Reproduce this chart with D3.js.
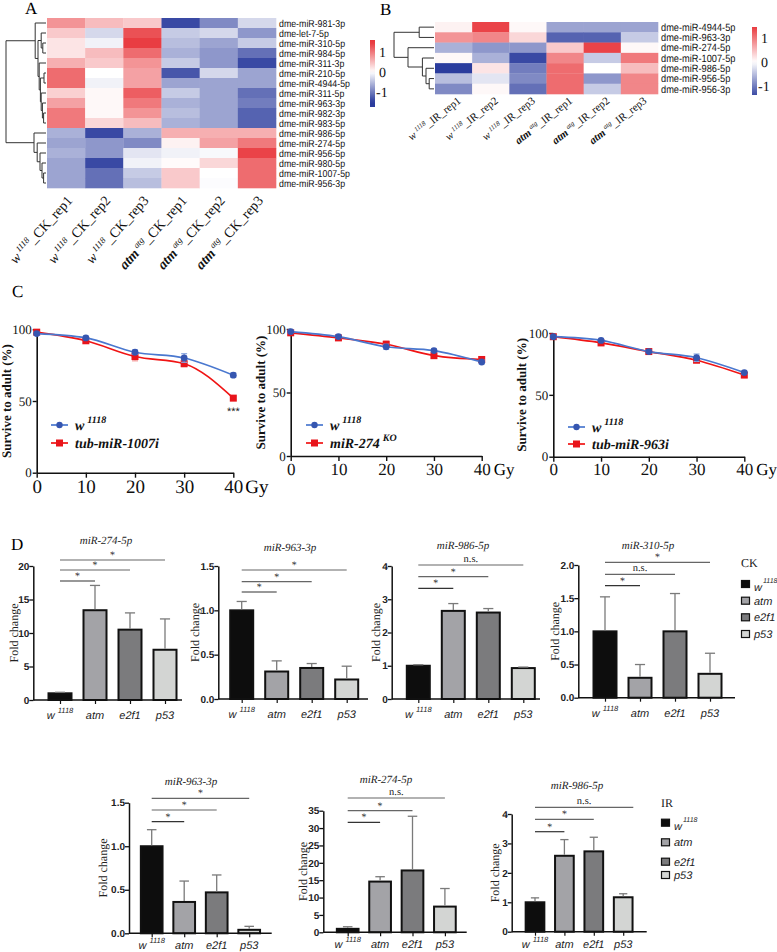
<!DOCTYPE html>
<html><head><meta charset="utf-8">
<script src="https://cdn.jsdelivr.net/npm/d3@7"></script>
<style>body{margin:0;background:#fff}svg{display:block;text-rendering:geometricPrecision}</style>
</head><body>
<svg id="fig" width="777" height="952"></svg>
<script>
// ================= DATA =================
// Panel A heatmap
const heatARows = ["dme-miR-981-3p","dme-let-7-5p","dme-miR-310-5p","dme-miR-984-5p","dme-miR-311-3p","dme-miR-210-5p","dme-miR-4944-5p","dme-miR-311-5p","dme-miR-963-3p","dme-miR-982-3p","dme-miR-983-5p","dme-miR-986-5p","dme-miR-274-5p","dme-miR-956-5p","dme-miR-980-5p","dme-miR-1007-5p","dme-miR-956-3p"];
const heatAGeno = ["w","w","w","atm","atm","atm"];
const heatASup = ["1118","1118","1118","atg","atg","atg"];
const heatASuffix = ["_CK_rep1","_CK_rep2","_CK_rep3","_CK_rep1","_CK_rep2","_CK_rep3"];
const heatAValues = [
  [0.8, 0.5, 0.4, -1.4, -0.9, -0.3],
  [0.4, -0.3, 1.3, -0.4, -0.3, -0.8],
  [0.2, -0.1, 1.45, -0.5, -0.7, -0.4],
  [0.2, 0.5, 1.1, -0.6, -0.8, -1.1],
  [0.6, 0.4, 0.8, -0.4, -0.8, -1.4],
  [1.1, 0.0, 0.7, -1.3, -0.3, -0.7],
  [1.1, -0.1, 0.7, -0.7, -0.7, -0.7],
  [0.35, 0.05, 1.2, -0.4, -0.7, -1.1],
  [0.7, 0.05, 1.0, -0.6, -0.7, -1.0],
  [1.0, 0.05, 0.8, -0.5, -0.7, -1.2],
  [1.0, 0.3, 0.5, -0.6, -0.7, -1.2],
  [-0.6, -1.4, -0.6, 0.6, 0.6, 0.6],
  [-0.7, -0.8, -0.9, 0.1, 0.7, 1.0],
  [-0.6, -0.8, -0.2, -0.1, -0.05, 1.4],
  [-0.7, -1.4, -0.1, 0.03, 0.3, 1.1],
  [-0.7, -1.1, -0.4, 0.4, 0.0, 1.1],
  [-0.7, -1.1, -0.5, 0.4, -0.02, 1.1]
];
// cluster tree: [mergeHeight, left, right]; leaves are row indices
const heatATree = [1.0,
  [0.27, 0, [0.2, [0.12, 1, [0.08, 2, 3]], [0.17, 4, [0.14, [0.05, 5, 6], [0.12, 7, [0.09, 8, [0.06, 9, 10]]]]]]],
  [0.3, 11, [0.22, 12, [0.15, 13, [0.1, 14, [0.06, 15, 16]]]]]];

// Panel B heatmap
const heatBRows = ["dme-miR-4944-5p","dme-miR-963-3p","dme-miR-274-5p","dme-miR-1007-5p","dme-miR-986-5p","dme-miR-956-5p","dme-miR-956-3p"];
const heatBGeno = ["w","w","w","atm","atm","atm"];
const heatBSup = ["1118","1118","1118","atg","atg","atg"];
const heatBSuffix = ["_IR_rep1","_IR_rep2","_IR_rep3","_IR_rep1","_IR_rep2","_IR_rep3"];
const heatBValues = [
  [0.1, 1.4, 0.05, -0.7, -0.7, -0.7],
  [0.8, 0.9, 0.3, -1.2, -1.2, -0.4],
  [-0.6, -0.8, -0.8, 0.4, 1.4, 0.05],
  [0.05, -0.6, -1.4, 0.9, -0.4, 1.0],
  [-1.5, 0.2, -1.0, 1.1, 0.0, 0.5],
  [-0.5, -0.2, -0.9, 1.1, -0.8, 0.9],
  [-0.9, 0.05, -1.1, 1.1, -0.4, 0.9]
];
const heatBTree = [1.0, [0.37, 0, 1], [0.65, 2, [0.29, 3, [0.2, 4, [0.12, 5, 6]]]]];
const heatLegendTicks = [1, 0, -1];

// Panel C survival
const cDoses = [0, 10, 20, 30, 40];
const cYTicks = [0, 50, 100];
const cWtName = ["w", "1118"];
const c1MutName = ["tub-miR-1007i", ""];
const c2MutName = ["miR-274", "KO"];
const c3MutName = ["tub-miR-963i", ""];
const c1Wt = [97, 94, 84, 80, 68];
const c1WtErr = [1, 1.2, 1.5, 3, 1.5];
const c1Mut = [98, 92, 81, 76, 52];
const c1MutErr = [1, 1.5, 3, 2, 1.2];
const c2Wt = [98, 94, 86, 83, 74];
const c2WtErr = [1, 1.2, 2, 1.2, 1.5];
const c2Mut = [97, 93, 88, 79, 76];
const c2MutErr = [1, 1.5, 2.5, 2, 2];
const c3Wt = [97, 94, 85, 80, 68];
const c3WtErr = [1, 1, 1, 3, 1.2];
const c3Mut = [97, 92, 85, 78, 66];
const c3MutErr = [1, 1.5, 1.5, 2, 2];

// Panel D qPCR
const dGenotypes = ["w1118", "atm", "e2f1", "p53"];
const dCK274 = [1.0, 13.4, 10.5, 7.5], dCK274Err = [0.15, 3.7, 2.5, 4.6];
const dCK963 = [1.0, 0.31, 0.35, 0.22], dCK963Err = [0.1, 0.12, 0.05, 0.15];
const dCK986 = [1.0, 2.65, 2.6, 0.93], dCK986Err = [0.03, 0.22, 0.12, 0.03];
const dCK310 = [1.0, 0.3, 1.0, 0.36], dCK310Err = [0.52, 0.2, 0.57, 0.31];
const dIR963 = [1.0, 0.36, 0.47, 0.04], dIR963Err = [0.19, 0.24, 0.2, 0.04];
const dIR274 = [1.0, 14.6, 17.8, 7.4], dIR274Err = [0.6, 1.4, 15.6, 5.2];
const dIR986 = [1.0, 2.58, 2.73, 1.17], dIR986Err = [0.15, 0.55, 0.48, 0.12];
const dSigCK274 = ["*", "*", "*"], dSigCK963 = ["*", "*", "*"], dSigCK986 = ["*", "*", "n.s."], dSigCK310 = ["*", "n.s.", "*"];
const dSigIR963 = ["*", "*", "*"], dSigIR274 = ["*", "*", "n.s."], dSigIR986 = ["*", "*", "n.s."];
const dFills = ["#0d0d0d", "#a3a3a7", "#7b7b7d", "#d3d5d3"];

// ================= DRAWING =================
const svg = d3.select("#fig");
const SERIF = "'Liberation Serif','Times New Roman',serif";
const SANS = "'Liberation Sans',Arial,sans-serif";
const heatColor = d3.scaleLinear().domain([-1.5, 0, 1.5]).range(["#2b3c9d", "#ffffff", "#e8363b"]).clamp(true);

function panelLabel(t, x, y) {
  svg.append("text").attr("x", x).attr("y", y).attr("font-family", SERIF).attr("font-size", 17).text(t);
}

function heatmap(cfg) {
  const g = svg.append("g");
  const xs = d3.scaleBand().domain(d3.range(cfg.values[0].length)).range([cfg.left, cfg.right]);
  const ys = d3.scaleBand().domain(d3.range(cfg.rows.length)).range([cfg.top, cfg.bottom]);
  cfg.values.forEach((row, r) => row.forEach((v, c) => {
    g.append("rect").attr("x", xs(c)).attr("y", ys(r)).attr("width", xs.bandwidth() + 0.3).attr("height", ys.bandwidth() + 0.3).attr("fill", heatColor(v));
  }));
  cfg.rows.forEach((name, r) => {
    g.append("text").attr("transform", `translate(${cfg.right + 3},${ys(r) + ys.bandwidth() / 2}) scale(${cfg.labelScale},1)`)
      .attr("dy", "0.36em").attr("font-family", SANS).attr("font-size", cfg.labelSize).attr("fill", "#111").text(name);
  });
  // column labels
  cfg.geno.forEach((gn, c) => {
    const t = g.append("text").attr("transform", `translate(${xs(c) + xs.bandwidth() / 2 + cfg.colDx},${cfg.bottom + cfg.colDy}) rotate(${cfg.colAngle})`)
      .attr("text-anchor", "end").attr("font-family", SERIF).attr("font-size", cfg.colSize).attr("fill", "#111");
    t.append("tspan").attr("font-style", "italic").attr("font-weight", gn === "atm" ? "bold" : "normal").text(gn);
    t.append("tspan").attr("font-style", "italic").attr("font-size", cfg.colSize * 0.62).attr("dy", -cfg.colSize * 0.4).attr("dx", 2).text(cfg.sup[c]);
    t.append("tspan").attr("dy", cfg.colSize * 0.4).text(cfg.suffix[c]);
  });
  // dendrogram
  const dw = cfg.left - 1 - cfg.dendroLeft;
  function lay(node) {
    if (typeof node === "number") return { x: cfg.left - 1, y: ys(node) + ys.bandwidth() / 2 };
    const a = lay(node[1]), b = lay(node[2]);
    const x = cfg.left - 1 - node[0] * dw;
    const p = d3.path();
    p.moveTo(a.x, a.y); p.lineTo(x, a.y); p.lineTo(x, b.y); p.lineTo(b.x, b.y);
    g.append("path").attr("d", p.toString()).attr("fill", "none").attr("stroke", "#333").attr("stroke-width", 1);
    return { x, y: (a.y + b.y) / 2 };
  }
  lay(cfg.tree);
  // legend
  const ly = d3.scaleLinear().domain([-1, 1]).range([cfg.legY1, cfg.legY0]);
  const vTop = ly.invert(cfg.legTop), vBot = ly.invert(cfg.legBot);
  const gid = "grad" + cfg.id;
  const grad = svg.append("defs").append("linearGradient").attr("id", gid).attr("x1", 0).attr("x2", 0).attr("y1", 0).attr("y2", 1);
  d3.range(0, 1.0001, 0.05).forEach(f => grad.append("stop").attr("offset", f).attr("stop-color", heatColor(vTop + (vBot - vTop) * f)));
  g.append("rect").attr("x", cfg.legX).attr("y", cfg.legTop).attr("width", 5).attr("height", cfg.legBot - cfg.legTop).attr("fill", `url(#${gid})`);
  heatLegendTicks.forEach(v => g.append("text").attr("x", cfg.legX + 9 + (v < 0 ? -3 : 0)).attr("y", ly(v)).attr("dy", "0.35em")
    .attr("font-family", SERIF).attr("font-size", 14).attr("fill", "#111").text(v));
}

heatmap({ id: "A", rows: heatARows, values: heatAValues, geno: heatAGeno, sup: heatASup, suffix: heatASuffix, tree: heatATree,
  left: 47, right: 276, top: 18, bottom: 188, dendroLeft: 6, labelSize: 10, labelScale: 0.88,
  colDx: 7, colDy: 13, colAngle: -48, colSize: 14,
  legX: 370, legTop: 40, legBot: 107, legY0: 52, legY1: 92 });
heatmap({ id: "B", rows: heatBRows, values: heatBValues, geno: heatBGeno, sup: heatBSup, suffix: heatBSuffix, tree: heatBTree,
  left: 435, right: 658, top: 22, bottom: 94, dendroLeft: 394, labelSize: 10.5, labelScale: 0.88,
  colDx: 8, colDy: 8, colAngle: -38, colSize: 11,
  legX: 752, legTop: 27, legBot: 95, legY0: 38, legY1: 86 });
panelLabel("A", 25, 14);
panelLabel("B", 380, 15);

// ---------- Panel C ----------
function survChart(cfg) {
  const g = svg.append("g");
  const x = d3.scaleLinear().domain([0, 40]).range([cfg.left, cfg.right]);
  const y = d3.scaleLinear().domain([0, 100]).range([cfg.bottom, cfg.top]);
  const ya = g.append("g").attr("transform", `translate(${cfg.left},0)`).call(d3.axisLeft(y).tickValues(cYTicks).tickSize(4).tickSizeOuter(0));
  const xa = g.append("g").attr("transform", `translate(0,${cfg.bottom})`).call(d3.axisBottom(x).tickValues(cDoses).tickSize(5).tickSizeOuter(0));
  [ya, xa].forEach(a => { a.select(".domain").attr("stroke", "#111").attr("stroke-width", 1.6); a.selectAll(".tick line").attr("stroke", "#111").attr("stroke-width", 1.4); });
  ya.selectAll("text").attr("font-family", SERIF).attr("font-size", 13).attr("fill", "#111").attr("x", -5);
  xa.selectAll("text").attr("font-family", SERIF).attr("font-size", cfg.xFont).attr("fill", "#111").attr("dy", "0.75em").attr("y", 6);
  g.append("text").attr("x", cfg.right + 12).attr("y", cfg.bottom + 6).attr("dy", "0.75em").attr("font-family", SERIF).attr("font-size", cfg.xFont).text("Gy");
  g.append("text").attr("transform", `translate(${cfg.titleX},${(cfg.top + cfg.bottom) / 2}) rotate(-90)`).attr("text-anchor", "middle")
    .attr("font-family", SERIF).attr("font-weight", "bold").attr("font-size", 13).attr("fill", "#111").text("Survive to adult (%)");
  const line = d3.line().x((d, i) => x(cDoses[i])).y(d => y(d)).curve(d3.curveMonotoneX);
  const series = [
    { v: cfg.mut, e: cfg.mutErr, c: "#f01414", ec: "#f4a0a0", shape: "sq", mc: "#e8141b" },
    { v: cfg.wt, e: cfg.wtErr, c: "#4a78cf", ec: "#8aa6e0", shape: "ci", mc: "#3656b0" }
  ];
  series.forEach(s => {
    s.v.forEach((v, i) => {
      const cx = x(cDoses[i]);
      g.append("line").attr("x1", cx).attr("x2", cx).attr("y1", y(v - s.e[i])).attr("y2", y(v + s.e[i])).attr("stroke", s.ec).attr("stroke-width", 1.2);
      [v - s.e[i], v + s.e[i]].forEach(ev => g.append("line").attr("x1", cx - 3).attr("x2", cx + 3).attr("y1", y(ev)).attr("y2", y(ev)).attr("stroke", s.ec).attr("stroke-width", 1.2));
    });
    g.append("path").attr("d", line(s.v)).attr("fill", "none").attr("stroke", s.c).attr("stroke-width", 1.7);
    s.v.forEach((v, i) => {
      if (s.shape === "sq") g.append("rect").attr("x", x(cDoses[i]) - 3.5).attr("y", y(v) - 3.5).attr("width", 7).attr("height", 7).attr("fill", s.mc);
      else g.append("circle").attr("cx", x(cDoses[i])).attr("cy", y(v)).attr("r", 3.4).attr("fill", s.mc);
    });
  });
  // legend
  const lg = [[cWtName, "#4a78cf", "ci", "#3656b0", cfg.legY0], [cfg.mutName, "#f01414", "sq", "#e8141b", cfg.legY1]];
  lg.forEach(([nm, c, shape, mc, ly]) => {
    g.append("line").attr("x1", cfg.legX).attr("x2", cfg.legX + 17).attr("y1", ly).attr("y2", ly).attr("stroke", c).attr("stroke-width", 1.7);
    if (shape === "sq") g.append("rect").attr("x", cfg.legX + 5).attr("y", ly - 3.5).attr("width", 7).attr("height", 7).attr("fill", mc);
    else g.append("circle").attr("cx", cfg.legX + 8.5).attr("cy", ly).attr("r", 3.2).attr("fill", mc);
    const t = g.append("text").attr("x", cfg.legX + 24).attr("y", ly + 5).attr("font-family", SERIF).attr("font-style", "italic").attr("font-weight", "bold").attr("font-size", 14).attr("fill", "#111");
    t.append("tspan").text(nm[0]);
    if (nm[1]) t.append("tspan").attr("font-size", 10).attr("dy", -7).attr("dx", 3).text(nm[1]);
  });
  if (cfg.star) g.append("text").attr("x", x(40)).attr("y", y(cfg.mut[4]) + 17).attr("text-anchor", "middle").attr("font-family", SANS).attr("font-size", 11).attr("fill", "#222").text(cfg.star);
}
panelLabel("C", 12, 297);
survChart({ left: 36.7, right: 233.3, top: 329.3, bottom: 472.7, xFont: 19, titleX: 11, wt: c1Wt, wtErr: c1WtErr, mut: c1Mut, mutErr: c1MutErr, mutName: c1MutName, legX: 51, legY0: 425, legY1: 443, star: "***" });
survChart({ left: 290.7, right: 481.7, top: 329, bottom: 456, xFont: 17, titleX: 265, wt: c2Wt, wtErr: c2WtErr, mut: c2Mut, mutErr: c2MutErr, mutName: c2MutName, legX: 306, legY0: 425, legY1: 443 });
survChart({ left: 553.3, right: 744.3, top: 333, bottom: 456.7, xFont: 17, titleX: 526, wt: c3Wt, wtErr: c3WtErr, mut: c3Mut, mutErr: c3MutErr, mutName: c3MutName, legX: 568, legY0: 427, legY1: 444 });

// ---------- Panel D ----------
function barChart(cfg) {
  const g = svg.append("g");
  const x = d3.scalePoint().domain(dGenotypes).range([cfg.first, cfg.first + 3 * cfg.step]);
  const y = d3.scaleLinear().domain([0, cfg.ymax]).range([cfg.bottom, cfg.top]);
  cfg.vals.forEach((v, i) => {
    const cx = x(dGenotypes[i]);
    g.append("rect").attr("x", cx - cfg.bw / 2).attr("y", y(v)).attr("width", cfg.bw).attr("height", y(0) - y(v))
      .attr("fill", dFills[i]).attr("stroke", "#111").attr("stroke-width", 2);
    const e = cfg.errs[i];
    g.append("line").attr("x1", cx).attr("x2", cx).attr("y1", y(v) - 1).attr("y2", y(v + e)).attr("stroke", "#7a7a7a").attr("stroke-width", 1.3);
    g.append("line").attr("x1", cx - cfg.bw * 0.22).attr("x2", cx + cfg.bw * 0.22).attr("y1", y(v + e)).attr("y2", y(v + e)).attr("stroke", "#7a7a7a").attr("stroke-width", 1.3);
  });
  const ya = g.append("g").attr("transform", `translate(${cfg.left},0)`).call(d3.axisLeft(y).tickValues(cfg.ticks).tickSize(4).tickSizeOuter(0).tickFormat(cfg.fmt));
  ya.select(".domain").attr("stroke", "#111").attr("stroke-width", 1.5);
  ya.selectAll(".tick line").attr("stroke", "#111").attr("stroke-width", 1.3);
  ya.selectAll("text").attr("font-family", SANS).attr("font-weight", "bold").attr("font-size", 10).attr("fill", "#222").attr("x", -4);
  const xa = g.append("g").attr("transform", `translate(0,${cfg.bottom})`).call(d3.axisBottom(x).tickSize(4).tickFormat(""));
  xa.select(".domain").attr("d", `M${cfg.left},0H${cfg.axEnd}`).attr("stroke", "#111").attr("stroke-width", 1.5);
  xa.selectAll(".tick line").attr("stroke", "#111").attr("stroke-width", 1.2);
  dGenotypes.forEach((gn, i) => {
    const t = g.append("text").attr("x", x(gn)).attr("y", cfg.bottom + cfg.labDy).attr("text-anchor", "middle")
      .attr("font-family", SANS).attr("font-style", "italic").attr("font-size", 11).attr("fill", "#222");
    if (gn === "w1118") { t.append("tspan").text("w"); t.append("tspan").attr("font-size", 7.5).attr("dy", -6).attr("dx", 3).text("1118"); }
    else t.text(gn);
  });
  g.append("text").attr("transform", `translate(${cfg.ftX},${(cfg.top + cfg.bottom) / 2}) rotate(-90)`).attr("text-anchor", "middle")
    .attr("font-family", SERIF).attr("font-size", 12).attr("fill", "#222").text("Fold change");
  g.append("text").attr("x", cfg.titleX).attr("y", cfg.titleY).attr("text-anchor", "middle").attr("font-family", SERIF).attr("font-style", "italic").attr("font-size", 11).attr("fill", "#222").text(cfg.title);
  cfg.sig.forEach((lab, k) => {
    const to = x(dGenotypes[k + 1]), from = x(dGenotypes[0]);
    const x2 = k === 2 && cfg.sigEnd ? cfg.sigEnd : to;
    const yy = cfg.sigY[k];
    g.append("line").attr("x1", from).attr("x2", x2).attr("y1", yy).attr("y2", yy).attr("stroke", k === 0 ? "#333" : "#666").attr("stroke-width", 1.2);
    g.append("text").attr("x", (from + x2) / 2).attr("y", lab === "*" ? yy - 2 : yy - 3).attr("text-anchor", "middle")
      .attr("font-family", SERIF).attr("font-size", lab === "*" ? 10 : 10.5).attr("fill", "#222").text(lab);
  });
}
const f1 = d3.format("d"), f2 = d3.format(".1f");
panelLabel("D", 11, 550);
barChart({ title: "miR-274-5p", vals: dCK274, errs: dCK274Err, sig: dSigCK274, ymax: 20, ticks: [0, 5, 10, 15, 20], fmt: f1,
  left: 33.3, first: 60, step: 35, bw: 23, axEnd: 182, top: 566, bottom: 700, labDy: 19, ftX: 18, titleX: 106, titleY: 544, sigY: [581, 570, 560] });
barChart({ title: "miR-963-3p", vals: dCK963, errs: dCK963Err, sig: dSigCK963, ymax: 1.5, ticks: [0, 0.5, 1, 1.5], fmt: f2,
  left: 218.3, first: 241.7, step: 35, bw: 23, axEnd: 368, top: 566, bottom: 699, labDy: 19, ftX: 199, titleX: 290, titleY: 551, sigY: [592, 581.7, 570] });
barChart({ title: "miR-986-5p", vals: dCK986, errs: dCK986Err, sig: dSigCK986, ymax: 4, ticks: [0, 1, 2, 3, 4], fmt: f1,
  left: 391.7, first: 418.3, step: 35, bw: 23, axEnd: 540, top: 566, bottom: 699, labDy: 19, ftX: 380, titleX: 463, titleY: 549, sigY: [588.3, 576.7, 565] });
barChart({ title: "miR-310-5p", vals: dCK310, errs: dCK310Err, sig: dSigCK310, ymax: 2, ticks: [0, 0.5, 1, 1.5, 2], fmt: f2,
  left: 578.3, first: 605, step: 35, bw: 23, axEnd: 735, top: 565, bottom: 697.7, labDy: 19, ftX: 559, titleX: 648, titleY: 549, sigY: [585.7, 574.3, 562.3] });
barChart({ title: "miR-963-3p", vals: dIR963, errs: dIR963Err, sig: dSigIR963, ymax: 1.5, ticks: [0, 0.5, 1, 1.5], fmt: f2,
  left: 129, first: 151.7, step: 32.5, bw: 21.7, axEnd: 271.7, top: 802.7, bottom: 933.3, labDy: 16, ftX: 107, titleX: 191, titleY: 785, sigY: [821.7, 810, 798.3] });
barChart({ title: "miR-274-5p", vals: dIR274, errs: dIR274Err, sig: dSigIR274, ymax: 35, ticks: [0, 5, 10, 15, 20, 25, 30, 35], fmt: f1,
  left: 323.3, first: 347.7, step: 32.4, bw: 21.7, axEnd: 466.7, top: 810.7, bottom: 932.3, labDy: 16, ftX: 307, titleX: 386, titleY: 783, sigY: [822.3, 810.7, 798] });
barChart({ title: "miR-986-5p", vals: dIR986, errs: dIR986Err, sig: dSigIR986, ymax: 4, ticks: [0, 1, 2, 3, 4], fmt: f1,
  left: 511.7, first: 535, step: 29.4, bw: 18.7, axEnd: 646.7, top: 814, bottom: 931.7, labDy: 16, ftX: 499, titleX: 577, titleY: 789, sigY: [831.7, 819.3, 807.3], sigEnd: 633.3 });

// legends
function barLegend(title, x, ty, ys) {
  svg.append("text").attr("x", x).attr("y", ty).attr("font-family", SERIF).attr("font-size", 12).attr("fill", "#222").text(title);
  dGenotypes.forEach((gn, i) => {
    svg.append("rect").attr("x", x + 0.5).attr("y", ys[i] - 3.5).attr("width", 8).attr("height", 7).attr("fill", dFills[i]).attr("stroke", "#111").attr("stroke-width", 1.2);
    const t = svg.append("text").attr("x", x + 13).attr("y", ys[i] + 4).attr("font-family", SANS).attr("font-style", "italic").attr("font-size", 11).attr("fill", "#222");
    if (gn === "w1118") { t.append("tspan").attr("dy", 3).text("w"); t.append("tspan").attr("font-size", 7).attr("dy", -8).attr("dx", 1).text("1118"); }
    else t.text(gn);
  });
}
barLegend("CK", 741, 567, [584, 600.7, 617.3, 634]);
barLegend("IR", 661, 807, [822.7, 842.3, 861.7, 875]);
</script>
</body></html>
